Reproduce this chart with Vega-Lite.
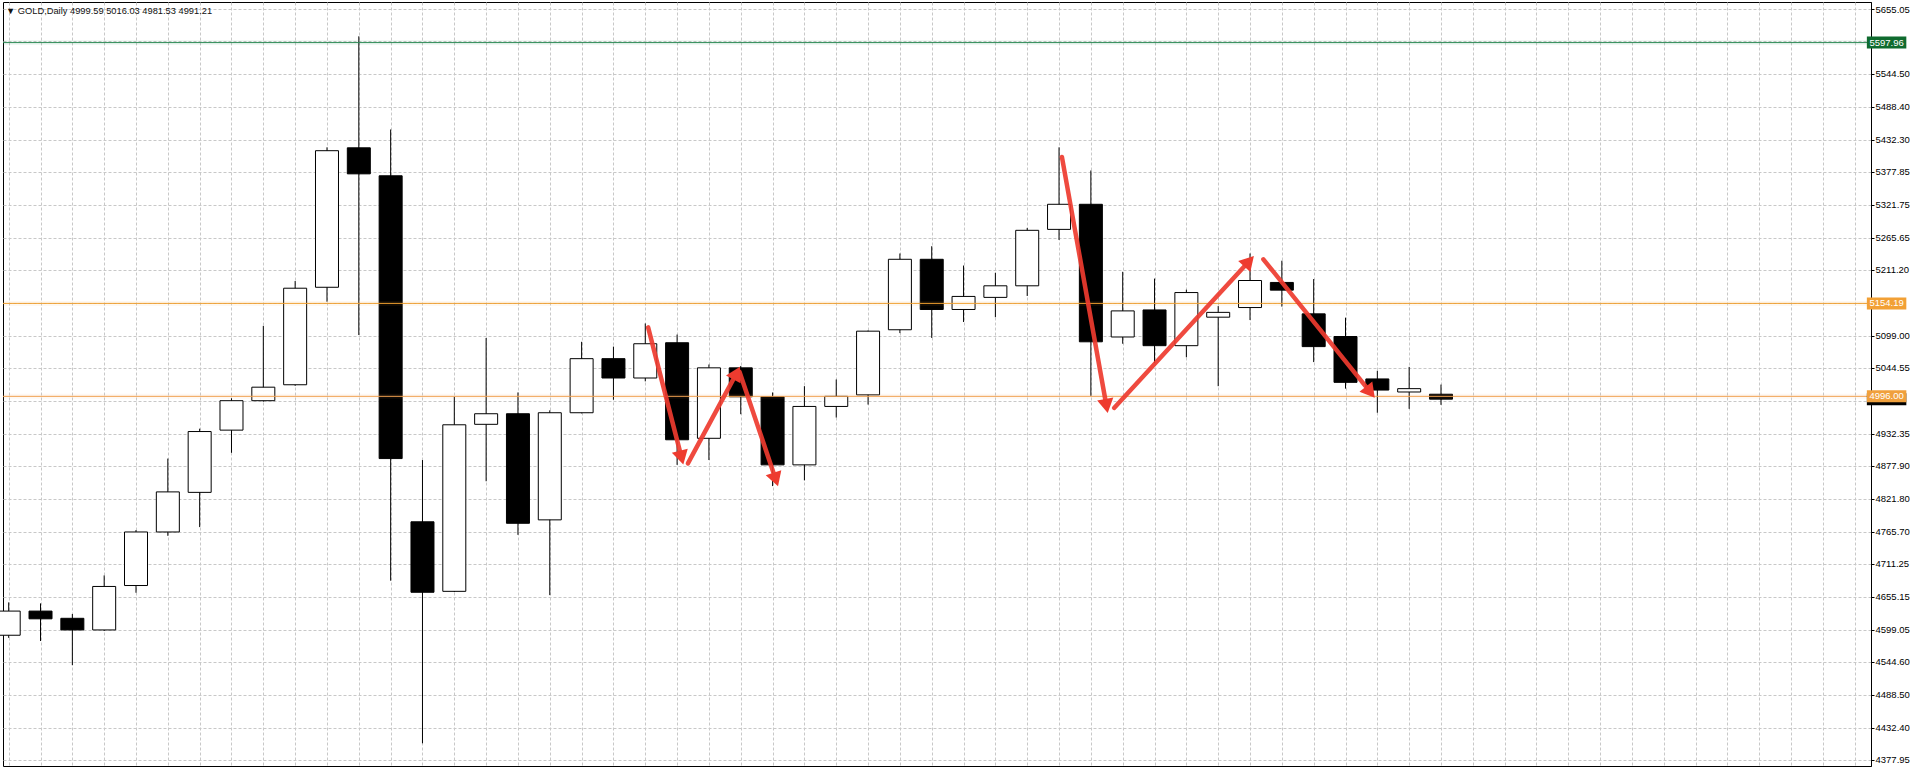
{
  "$schema": "https://vega.github.io/schema/vega-lite/v6.json",
  "width": 1868,
  "height": 764,
  "autosize": {"type": "none"},
  "padding": {"left": 3, "top": 2, "right": 39, "bottom": 1},
  "background": "white",
  "title": {
    "text": "▼ GOLD,Daily  4999.59 5016.03 4981.53 4991.21",
    "anchor": "start",
    "frame": "group",
    "orient": "top",
    "offset": -14,
    "dx": 3,
    "font": "Liberation Sans",
    "fontSize": 9.3,
    "fontWeight": "normal",
    "color": "#111111"
  },
  "config": {
    "view": {"stroke": "black", "strokeWidth": 1},
    "font": "Liberation Sans"
  },
  "resolve": {"axis": {"x": "independent", "y": "independent"}},
  "datasets": {
    "candles": [
      {"i": 0, "open": 4589.5, "high": 4645.4, "low": 4585.0, "close": 4630.6},
      {"i": 1, "open": 4630.6, "high": 4643.7, "low": 4579.7, "close": 4617.4},
      {"i": 2, "open": 4618.3, "high": 4625.6, "low": 4538.6, "close": 4598.5},
      {"i": 3, "open": 4598.5, "high": 4691.3, "low": 4596.9, "close": 4672.5},
      {"i": 4, "open": 4674.1, "high": 4768.5, "low": 4661.8, "close": 4765.2},
      {"i": 5, "open": 4765.2, "high": 4890.1, "low": 4758.7, "close": 4833.4},
      {"i": 6, "open": 4832.6, "high": 4941.0, "low": 4773.5, "close": 4936.1},
      {"i": 7, "open": 4938.5, "high": 4992.7, "low": 4899.9, "close": 4988.6},
      {"i": 8, "open": 4988.6, "high": 5115.9, "low": 4987.0, "close": 5011.6},
      {"i": 9, "open": 5015.7, "high": 5192.3, "low": 5014.0, "close": 5180.0},
      {"i": 10, "open": 5181.6, "high": 5419.7, "low": 5157.0, "close": 5414.0},
      {"i": 11, "open": 5418.9, "high": 5608.6, "low": 5100.3, "close": 5374.6},
      {"i": 12, "open": 5371.3, "high": 5450.1, "low": 4682.3, "close": 4890.1},
      {"i": 13, "open": 4782.5, "high": 4887.6, "low": 4405.6, "close": 4662.6},
      {"i": 14, "open": 4664.2, "high": 4995.2, "low": 4663.0, "close": 4947.6},
      {"i": 15, "open": 4948.4, "high": 5095.4, "low": 4851.5, "close": 4966.4},
      {"i": 16, "open": 4966.4, "high": 5002.6, "low": 4760.3, "close": 4780.0},
      {"i": 17, "open": 4785.8, "high": 4972.2, "low": 4657.7, "close": 4968.1},
      {"i": 18, "open": 4968.1, "high": 5088.8, "low": 4967.0, "close": 5060.1},
      {"i": 19, "open": 5060.1, "high": 5080.6, "low": 4990.3, "close": 5027.2},
      {"i": 20, "open": 5027.2, "high": 5120.0, "low": 5021.5, "close": 5085.5},
      {"i": 21, "open": 5087.2, "high": 5101.1, "low": 4879.4, "close": 4922.1},
      {"i": 22, "open": 4924.6, "high": 5050.2, "low": 4887.6, "close": 5044.5},
      {"i": 23, "open": 5044.5, "high": 5047.7, "low": 4965.6, "close": 4995.2},
      {"i": 24, "open": 4995.2, "high": 5002.6, "low": 4843.3, "close": 4879.4},
      {"i": 25, "open": 4879.4, "high": 5013.3, "low": 4853.1, "close": 4978.8},
      {"i": 26, "open": 4978.8, "high": 5024.7, "low": 4959.9, "close": 4996.0},
      {"i": 27, "open": 4998.5, "high": 5108.0, "low": 4982.0, "close": 5106.9},
      {"i": 28, "open": 5109.3, "high": 5239.1, "low": 5103.6, "close": 5229.2},
      {"i": 29, "open": 5229.2, "high": 5251.4, "low": 5095.4, "close": 5143.8},
      {"i": 30, "open": 5143.8, "high": 5218.6, "low": 5122.5, "close": 5166.0},
      {"i": 31, "open": 5164.4, "high": 5206.2, "low": 5130.7, "close": 5184.1},
      {"i": 32, "open": 5184.1, "high": 5282.6, "low": 5166.8, "close": 5278.5},
      {"i": 33, "open": 5280.1, "high": 5419.7, "low": 5262.1, "close": 5322.8},
      {"i": 34, "open": 5322.8, "high": 5380.3, "low": 4996.8, "close": 5088.8},
      {"i": 35, "open": 5097.0, "high": 5207.9, "low": 5085.5, "close": 5141.4},
      {"i": 36, "open": 5143.0, "high": 5196.4, "low": 5052.7, "close": 5082.2},
      {"i": 37, "open": 5082.2, "high": 5177.5, "low": 5062.5, "close": 5172.6},
      {"i": 38, "open": 5130.7, "high": 5149.6, "low": 5013.3, "close": 5138.9},
      {"i": 39, "open": 5147.1, "high": 5239.1, "low": 5125.8, "close": 5193.1},
      {"i": 40, "open": 5189.8, "high": 5226.8, "low": 5148.7, "close": 5176.7},
      {"i": 41, "open": 5136.4, "high": 5195.6, "low": 5054.3, "close": 5080.6},
      {"i": 42, "open": 5097.8, "high": 5129.9, "low": 5009.1, "close": 5019.8},
      {"i": 43, "open": 5025.6, "high": 5039.5, "low": 4968.1, "close": 5006.7},
      {"i": 44, "open": 5003.4, "high": 5046.1, "low": 4974.7, "close": 5009.1},
      {"i": 45, "open": 4999.59, "high": 5016.03, "low": 4981.53, "close": 4991.21}
    ],
    "levels": [
      {"kind": "high", "price": 5597.96, "label": "5597.96"},
      {"kind": "resist", "price": 5154.19, "label": "5154.19"},
      {"kind": "bid", "price": 4991.21, "label": "4991.21"},
      {"kind": "current", "price": 4996.0, "label": "4996.00"}
    ],
    "arrows": [
      {"x1": 20.09, "p1": 5113.4, "x2": 21.14, "p2": 4891.7, "heading": 165.7},
      {"x1": 21.34, "p1": 4881.9, "x2": 22.87, "p2": 5035.6, "heading": 28.1},
      {"x1": 22.96, "p1": 5037.9, "x2": 24.10, "p2": 4854.5, "heading": 161.5},
      {"x1": 33.09, "p1": 5403.3, "x2": 34.49, "p2": 4979.6, "heading": 170.0},
      {"x1": 34.73, "p1": 4976.3, "x2": 38.97, "p2": 5225.9, "heading": 42.5},
      {"x1": 39.42, "p1": 5229.2, "x2": 42.78, "p2": 5003.1, "heading": 141.3}
    ]
  },
  "layer": [
    {
      "data": {"name": "candles"},
      "mark": {"type": "rule", "color": "black", "strokeWidth": 1},
      "encoding": {
        "x": {
          "field": "i", "type": "quantitative",
          "scale": {"domain": [-0.0219, 58.353], "nice": false, "zero": false},
          "axis": {
            "orient": "bottom", "title": null, "labels": false, "ticks": false, "domain": false,
            "grid": true, "gridDash": [3, 2], "gridColor": "#c8c8c8", "gridWidth": 1,
            "values": [0,1,2,3,4,5,6,7,8,9,10,11,12,13,14,15,16,17,18,19,20,21,22,23,24,25,26,27,28,29,30,31,32,33,34,35,36,37,38,39,40,41,42,43,44,45,46,47,48,49,50,51,52,53,54,55,56,57,58]
          }
        },
        "y": {
          "field": "low", "type": "quantitative",
          "scale": {"domain": [4375.5, 5658.5], "nice": false, "zero": false},
          "axis": {
            "orient": "right", "title": null,
            "values": [5655.05, 5600.60, 5544.50, 5488.40, 5432.30, 5377.85, 5321.75, 5265.65, 5211.20, 5155.10, 5099.00, 5044.55, 4988.45, 4932.35, 4877.90, 4821.80, 4765.70, 4711.25, 4655.15, 4599.05, 4544.60, 4488.50, 4432.40, 4377.95],
            "labelExpr": "(abs(datum.value-5600.6)<0.01 || abs(datum.value-5155.1)<0.01 || abs(datum.value-4988.45)<0.01) ? '' : format(datum.value, '.2f')",
            "grid": true, "gridDash": [3, 2], "gridColor": "#c8c8c8", "gridWidth": 1,
            "domainColor": "black", "tickColor": "black", "tickSize": 3,
            "labelPadding": 1, "labelFontSize": 9.5, "labelColor": "black", "labelFont": "Liberation Sans",
            "labelOverlap": false, "labelBound": false, "labelFlush": false
          }
        },
        "y2": {"field": "high"}
      }
    },
    {
      "data": {"name": "candles"},
      "mark": {"type": "bar", "size": 23, "stroke": "black", "strokeWidth": 1},
      "encoding": {
        "x": {"field": "i", "type": "quantitative", "scale": {"domain": [-0.0219, 58.353], "nice": false, "zero": false}, "axis": null},
        "y": {"field": "open", "type": "quantitative", "scale": {"domain": [4375.5, 5658.5], "nice": false, "zero": false}, "axis": null},
        "y2": {"field": "close"},
        "fill": {"condition": {"test": "datum.close > datum.open", "value": "white"}, "value": "black"}
      }
    },
    {
      "data": {"name": "levels"},
      "transform": [{"filter": "datum.kind != 'bid'"}],
      "mark": {"type": "rule", "strokeWidth": 5, "strokeOpacity": 0.07},
      "encoding": {
        "y": {"field": "price", "type": "quantitative", "scale": {"domain": [4375.5, 5658.5], "nice": false, "zero": false}, "axis": null},
        "stroke": {"field": "kind", "type": "nominal", "scale": {"domain": ["high", "resist", "current"], "range": ["#2e8b57", "#f0a030", "#f0a050"]}, "legend": null}
      }
    },
    {
      "data": {"name": "levels"},
      "transform": [{"filter": "datum.kind != 'bid'"}],
      "mark": {"type": "rule", "strokeWidth": 1},
      "encoding": {
        "y": {"field": "price", "type": "quantitative", "scale": {"domain": [4375.5, 5658.5], "nice": false, "zero": false}, "axis": null},
        "stroke": {"field": "kind", "type": "nominal", "scale": {"domain": ["high", "resist", "current"], "range": ["#0b4d22", "#ec9020", "#c07a38"]}, "legend": null}
      }
    },
    {
      "data": {"name": "arrows"},
      "mark": {"type": "rule", "color": "#ee3b2f", "strokeWidth": 4.5, "strokeCap": "round", "opacity": 0.92},
      "encoding": {
        "x": {"field": "x1", "type": "quantitative", "scale": {"domain": [-0.0219, 58.353], "nice": false, "zero": false}, "axis": null},
        "y": {"field": "p1", "type": "quantitative", "scale": {"domain": [4375.5, 5658.5], "nice": false, "zero": false}, "axis": null},
        "x2": {"field": "x2"},
        "y2": {"field": "p2"}
      }
    },
    {
      "data": {"name": "arrows"},
      "mark": {"type": "point", "shape": "triangle-up", "filled": true, "color": "#ee3b2f", "size": 270, "opacity": 1},
      "encoding": {
        "x": {"field": "x2", "type": "quantitative", "scale": {"domain": [-0.0219, 58.353], "nice": false, "zero": false}, "axis": null},
        "y": {"field": "p2", "type": "quantitative", "scale": {"domain": [4375.5, 5658.5], "nice": false, "zero": false}, "axis": null},
        "angle": {"field": "heading", "type": "quantitative", "scale": null}
      }
    },
    {
      "data": {"name": "levels"},
      "mark": {"type": "bar", "size": 12},
      "encoding": {
        "x": {"datum": 58.38, "type": "quantitative", "scale": {"domain": [-0.0219, 58.353], "nice": false, "zero": false}, "axis": null},
        "x2": {"datum": 59.62},
        "y": {"field": "price", "type": "quantitative", "scale": {"domain": [4375.5, 5658.5], "nice": false, "zero": false}, "axis": null},
        "fill": {"field": "kind", "type": "nominal", "scale": {"domain": ["high", "resist", "bid", "current"], "range": ["#0f6b2f", "#f2a035", "#000000", "#f0a03c"]}, "legend": null}
      }
    },
    {
      "data": {"name": "levels"},
      "transform": [{"filter": "datum.kind != 'bid'"}],
      "mark": {"type": "text", "color": "white", "fontSize": 9.5, "align": "center", "baseline": "middle", "font": "Liberation Sans"},
      "encoding": {
        "x": {"datum": 59.0, "type": "quantitative", "scale": {"domain": [-0.0219, 58.353], "nice": false, "zero": false}, "axis": null},
        "y": {"field": "price", "type": "quantitative", "scale": {"domain": [4375.5, 5658.5], "nice": false, "zero": false}, "axis": null},
        "text": {"field": "label"}
      }
    }
  ]
}
